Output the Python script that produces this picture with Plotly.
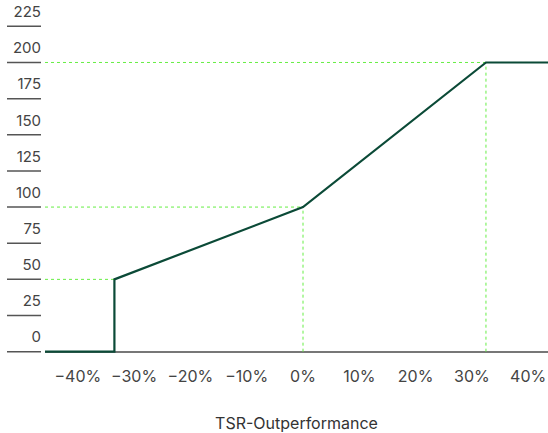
import plotly.graph_objects as go

# ---- data ----
tsr_outperformance = [-46, -33.5, -33.5, 0, 32.5, 44]   # % (line runs off both edges)
payout = [0, 0, 50, 100, 200, 200]                      # %
kink_x = [-33.5, 0, 32.5]
kink_y = [50, 100, 200]

x_tick_vals = [-40, -30, -20, -10, 0, 10, 20, 30, 40]
x_tick_text = ["\u221240%", "\u221230%", "\u221220%", "\u221210%", "0%", "10%", "20%", "30%", "40%"]
y_tick_vals = [0, 25, 50, 75, 100, 125, 150, 175, 200, 225]
y_tick_text = [str(v) for v in y_tick_vals]

X_MIN, X_MAX = -45.83, 43.52
Y_MIN, Y_MAX = -3, 228

LINE_COLOR = "#0b4a37"
GUIDE_COLOR = "#66ee44"
FONT = "Inter, Roboto, sans-serif"

fig = go.Figure()

# dotted guide lines
top = max(kink_y)
for kx, ky in zip(kink_x, kink_y):
    hx_end = X_MAX if ky == top else kx
    fig.add_trace(go.Scatter(x=[X_MIN, hx_end], y=[ky, ky], mode="lines",
                             line=dict(color=GUIDE_COLOR, width=1, dash="dot"),
                             hoverinfo="skip", showlegend=False))
    if kx != kink_x[0]:
        fig.add_trace(go.Scatter(x=[kx, kx], y=[0, ky], mode="lines",
                                 line=dict(color=GUIDE_COLOR, width=1, dash="dot"),
                                 hoverinfo="skip", showlegend=False))

# payout curve
fig.add_trace(go.Scatter(x=tsr_outperformance, y=payout, mode="lines",
                         line=dict(color=LINE_COLOR, width=2.2),
                         showlegend=False))

# short rules under the y tick labels
plot_left = 45
plot_w = 548 - plot_left
for v in y_tick_vals:
    fig.add_shape(type="line", xref="paper", yref="y",
                  x0=(7 - plot_left) / plot_w, x1=(41 - plot_left) / plot_w,
                  y0=v, y1=v, line=dict(color="#555555", width=1.5))

fig.update_layout(
    width=548, height=433,
    margin=dict(l=plot_left, r=0, t=22, b=77),
    paper_bgcolor="white", plot_bgcolor="white",
    font=dict(family=FONT, color="#444444"),
    xaxis=dict(range=[X_MIN, X_MAX], tickvals=x_tick_vals, ticktext=x_tick_text,
               showgrid=False, zeroline=False, showline=False, ticks="",
               ticklabelstandoff=9,
               tickfont=dict(size=16, color="#444444"),
               title=dict(text="TSR-Outperformance", font=dict(size=16, color="#333333"),
                          standoff=36),
               automargin=False),
    yaxis=dict(range=[Y_MIN, Y_MAX], tickvals=y_tick_vals, ticktext=y_tick_text,
               showgrid=False, zeroline=True, zerolinecolor="#777777", zerolinewidth=1.5,
               showline=False, ticks="", ticklabelposition="outside top",
               ticklabelshift=-4, ticklabelstandoff=3,
               tickfont=dict(size=15, color="#444444"), automargin=False),
)

fig.write_html("out.html", config={"displayModeBar": False},
               post_script="document.body.style.margin='0';")
